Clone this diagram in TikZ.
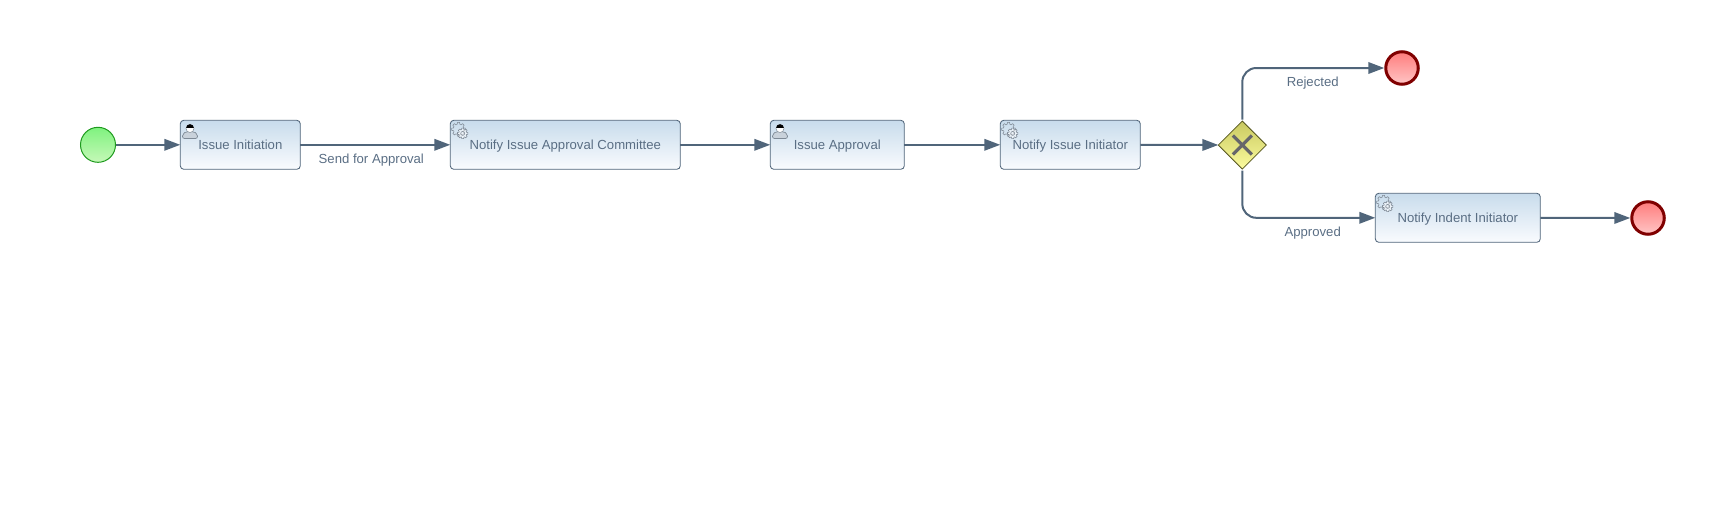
\documentclass[tikz,border=0pt]{standalone}
\usepackage{fontspec}
\setmainfont{Liberation Sans}
\usetikzlibrary{arrows.meta,shapes.geometric,calc}
\definecolor{flowc}{HTML}{50657A}
\definecolor{textc}{HTML}{5A6E84}
\tikzset{
  every node/.style={font=\fontsize{13.15}{15}\selectfont,text=textc},
  taskbox/.style={draw=flowc,line width=0.85pt,rounded corners=3.5pt,top color=taskT,bottom color=taskB,
    minimum height=49pt,inner sep=0pt,outer sep=0pt,anchor=north west,text height=11pt,text depth=2pt},
  startev/.style={circle,draw=startD,line width=1pt,top color=startT,bottom color=startB,minimum size=35pt,inner sep=0pt,outer sep=0.5pt},
  endev/.style={circle,draw=endD,line width=3pt,top color=endT,bottom color=endB,minimum size=32.5pt,inner sep=0pt,outer sep=1.5pt},
  gatew/.style={diamond,draw=gwD,line width=0.8pt,top color=gwT,bottom color=gwB,minimum width=48pt,minimum height=48pt,inner sep=0pt,outer sep=0pt,aspect=1},
  flow/.style={draw=flowc,line width=2pt,-{Triangle[length=16pt,width=11.5pt]}},
  flowlabel/.style={inner sep=0pt,text height=11pt,text depth=2pt},
  gearline/.style={draw=gearc,line width=0.55pt},
  pics/gear/.style={code={
    % large gear, upper left
    \draw[gearline,line join=round,shift={(-2,-1.7)}] (-9:7pt)
      \foreach \k in {0,45,...,315}{ -- (\k-9:7pt) -- (\k+9:7pt) -- (\k+15:5.2pt) -- (\k+30:5.2pt)} -- cycle;
    % small gear, lower right
    \fill[white,fill opacity=0.55,shift={(2.2,2.4)}] (0,0) circle (4.6pt);
    \draw[gearline,line join=round,shift={(2.2,2.4)}] (-11:5.3pt)
      \foreach \k in {0,45,...,315}{ -- (\k-11:5.3pt) -- (\k+11:5.3pt) -- (\k+17:3.9pt) -- (\k+28:3.9pt)} -- cycle;
    \draw[gearline,shift={(2.2,2.4)}] (0,0) circle (2pt);
  }},
  pics/usericon/.style={code={
    \draw[draw=userc,line width=0.7pt,fill=userf,rounded corners=2pt] (-7.5,7.5) -- (-7.5,3) -- (-3.5,0.5) -- (3.5,0.5) -- (7.5,3) -- (7.5,7.5) -- cycle;
    \fill[white] (0,-2.5) circle (4pt);
    \draw[userc,line width=0.5pt] (0,-2.5) circle (4pt);
    \fill[black] (-3.8,-3.2) arc (180:360:3.8 and 3.6) -- cycle;
  }}
}
\definecolor{taskT}{HTML}{C8DCEC}
\definecolor{taskB}{HTML}{F9FBFE}
\definecolor{startD}{HTML}{1E9A1E}
\definecolor{startT}{HTML}{7FF27F}
\definecolor{startB}{HTML}{C6F8B8}
\definecolor{endD}{HTML}{800000}
\definecolor{endT}{HTML}{FF7C7C}
\definecolor{endB}{HTML}{FFC6C6}
\definecolor{gwD}{HTML}{55551E}
\definecolor{gwT}{HTML}{C8C860}
\definecolor{gwB}{HTML}{FCFC9E}
\definecolor{gearc}{HTML}{808A96}
\definecolor{userc}{HTML}{7E8A96}
\definecolor{userf}{HTML}{C9D2DB}
\definecolor{markc}{HTML}{66666A}
\begin{document}
\begin{tikzpicture}[x=1pt,y=-1pt]
\useasboundingbox (0,0) rectangle (1716,504);
\node[startev] (start) at (98,144.8) {};
\node[taskbox,minimum width=120pt] (t1) at (180.3,120.3) {Issue Initiation};
\node[taskbox,minimum width=230pt] (t2) at (450.3,120.3) {Notify Issue Approval Committee};
\node[taskbox,minimum width=134pt] (t3) at (770.3,120.3) {Issue Approval};
\node[taskbox,minimum width=140pt] (t4) at (1000.3,120.3) {Notify Issue Initiator};
\node[gatew] (gw) at (1242.3,145) {};
\node[taskbox,minimum width=165pt] (t5) at (1375.3,193.3) {Notify Indent Initiator};
\node[endev] (e1) at (1402,68) {};
\node[endev] (e2) at (1648,218) {};
% gateway mark
\draw[markc,line width=3.2pt] ($(gw.center)+(-9.5,-9.5)$) -- ($(gw.center)+(9.5,9.5)$);
\draw[markc,line width=3.2pt] ($(gw.center)+(-9.5,9.5)$) -- ($(gw.center)+(9.5,-9.5)$);
% task icons
\pic at (190,131) {usericon};
\pic at (780,131) {usericon};
\pic at (460.5,131) {gear};
\pic at (1010.5,131) {gear};
\pic at (1385.5,204) {gear};
% flows
\draw[flow] (start) -- (t1);
\draw[flow] (t1) -- (t2);
\draw[flow] (t2) -- (t3);
\draw[flow] (t3) -- (t4);
\draw[flow] (t4) -- (gw);
\draw[flow,rounded corners=14pt] (gw.north) ++(0,-1.5) |- (e1.west);
\draw[flow,rounded corners=14pt] (gw.south) ++(0,1.5) |- (t5.west);
\draw[flow] (t5) -- (e2);
% labels
\node[flowlabel] (l1) at (371.3,158.7) {Send for Approval};
\node[flowlabel] (l2) at (1312.7,81.7) {Rejected};
\node[flowlabel] (l3) at (1312.7,231.7) {Approved};
\end{tikzpicture}
\end{document}
